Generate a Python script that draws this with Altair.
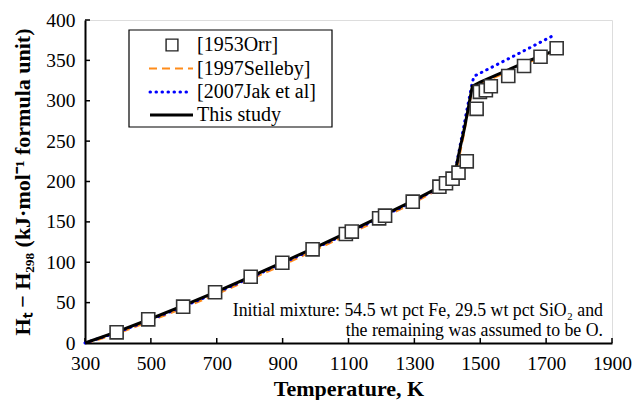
import altair as alt
import pandas as pd

# ---- data ----
orr_T = [396, 492, 598, 695, 803, 899, 991, 1092, 1110, 1193, 1211, 1295, 1376, 1396,
         1416, 1434, 1459, 1489, 1499, 1517, 1532, 1585, 1633, 1683, 1732]
orr_H = [13.2, 29.3, 45, 62.8, 82, 99.4, 116, 135, 138, 154.4, 157.7, 175, 193.6, 197.8,
         203.5, 211, 225, 290, 311, 313, 318, 330.6, 343, 354.5, 365]

sel_T = [300, 400, 500, 600, 700, 800, 900, 1000, 1100, 1200, 1300, 1380, 1420, 1430,
         1440, 1450, 1460, 1470, 1478, 1500, 1600, 1700, 1720]
sel_H = [-1, 12, 27.5, 43.5, 60.5, 78.5, 96.5, 115.5, 134.5, 154, 174, 192, 205, 218,
         238, 258, 280, 302, 316, 321, 339, 357, 361]

jak_T = [300, 400, 500, 600, 700, 800, 900, 1000, 1100, 1200, 1300, 1380, 1420, 1430,
         1440, 1450, 1460, 1470, 1475, 1480, 1484, 1600, 1728]
jak_H = [0, 13.5, 29, 45.5, 62.5, 80.5, 99, 117.5, 136.5, 156, 176, 193.5, 206, 226,
         247, 268, 290, 310, 321, 329, 331, 355, 382]

this_T = [300, 400, 500, 600, 700, 800, 900, 1000, 1100, 1200, 1300, 1380, 1410, 1420,
          1425, 1430, 1440, 1450, 1460, 1470, 1476, 1500, 1550, 1600, 1650, 1700, 1725]
this_H = [0, 14.5, 30, 46.5, 63.5, 81.5, 100, 118.5, 137.5, 157, 177, 194, 202, 207,
          214, 224, 244, 262, 283, 305, 318, 323, 332, 341, 350, 358, 362]

x_ticks = [300, 500, 700, 900, 1100, 1300, 1500, 1700, 1900]
y_ticks = [0, 50, 100, 150, 200, 250, 300, 350, 400]

legend_labels = ["[1953Orr]", "[1997Selleby]", "[2007Jak et al]", "This study"]
note_lines = ["Initial mixture: 54.5 wt pct Fe, 29.5 wt pct SiO\u2082 and",
              "the remaining was assumed to be O."]

# ---- layout / style ----
W, H = 527, 323
FONT = "Liberation Serif"
ORANGE = "#FF8C1A"
BLUE = "#0000FF"

xs = alt.Scale(domain=[300, 1900], nice=False, zero=False)
ys = alt.Scale(domain=[0, 400], nice=False)

x_enc = alt.X("T:Q", scale=xs, axis=alt.Axis(
    values=x_ticks, format="d", title="Temperature, K", ticks=False, grid=False,
    labelFontSize=19.5, labelPadding=11, labelFont=FONT, labelColor="black",
    labelOverlap=False, labelBound=False, labelFlush=False,
    titleFont=FONT, titleFontSize=22, titleFontWeight="bold", titleColor="black",
    titleBaseline="alphabetic", titleY=52, titleX=W / 2,
    domainColor="black", domainWidth=2))
y_enc = alt.Y("H:Q", scale=ys, axis=alt.Axis(
    values=y_ticks, format="d",
    title="H\u209c \u2212 H\u2082\u2089\u2088 (kJ\u00b7mol\u207b\u00b9 formula unit)",
    ticks=False, grid=False,
    labelFontSize=19.5, labelPadding=10, labelFont=FONT, labelColor="black",
    labelOverlap=False, labelBound=False, labelFlush=False,
    titleFont=FONT, titleFontSize=22, titleFontWeight="bold", titleColor="black",
    titleAngle=270, titleAlign="center", titleBaseline="middle",
    titleX=-63, titleY=H / 2,
    domainColor="black", domainWidth=2))

orr = pd.DataFrame({"T": orr_T, "H": orr_H})
sel = pd.DataFrame({"T": sel_T, "H": sel_H})
jak = pd.DataFrame({"T": jak_T, "H": jak_H})
ths = pd.DataFrame({"T": this_T, "H": this_H})

layers = []

# inward ticks
layers.append(alt.Chart(pd.DataFrame({"T": x_ticks})).mark_rule(color="black", strokeWidth=1.5)
              .encode(x=x_enc, y=alt.value(H), y2=alt.value(H - 5)))
layers.append(alt.Chart(pd.DataFrame({"H": y_ticks})).mark_rule(color="black", strokeWidth=1.5)
              .encode(y=y_enc, x=alt.value(0), x2=alt.value(5)))

layers.append(alt.Chart(sel).mark_line(color=ORANGE, strokeWidth=2.2, strokeDash=[8, 5], clip=True)
              .encode(x=x_enc, y=y_enc, order="T:Q"))
layers.append(alt.Chart(jak).mark_line(color=BLUE, strokeWidth=3, strokeDash=[0.5, 5.5], strokeCap="round")
              .encode(x=x_enc, y=y_enc, order="T:Q"))
layers.append(alt.Chart(ths).mark_line(color="black", strokeWidth=3)
              .encode(x=x_enc, y=y_enc, order="T:Q"))
layers.append(alt.Chart(orr).mark_point(shape="square", size=170, filled=True, fill="white",
                                        stroke="#333333", strokeWidth=1.6, opacity=1)
              .encode(x=x_enc, y=y_enc))

# annotation
for i, line in enumerate(note_lines):
    layers.append(alt.Chart(pd.DataFrame({"t": [line]})).mark_text(
        font=FONT, fontSize=17.8, align="right", baseline="alphabetic", color="black")
        .encode(text="t:N", x=alt.value(518), y=alt.value(296 + 20 * i)))

# legend box
dummy = pd.DataFrame({"a": [0]})
layers.append(alt.Chart(dummy).mark_rect(fill="white", stroke="black", strokeWidth=1.2)
              .encode(x=alt.value(44), x2=alt.value(247), y=alt.value(10), y2=alt.value(107)))
rows = [25, 48.5, 72, 95]
layers.append(alt.Chart(dummy).mark_point(shape="square", size=140, filled=True, fill="white",
                                          stroke="#222222", strokeWidth=1.4, opacity=1)
              .encode(x=alt.value(87), y=alt.value(rows[0])))
layers.append(alt.Chart(dummy).mark_rule(color=ORANGE, strokeWidth=2.2, strokeDash=[8, 5])
              .encode(x=alt.value(64), x2=alt.value(108), y=alt.value(rows[1])))
layers.append(alt.Chart(dummy).mark_rule(color=BLUE, strokeWidth=3, strokeDash=[0.5, 5.5], strokeCap="round")
              .encode(x=alt.value(65), x2=alt.value(106), y=alt.value(rows[2])))
layers.append(alt.Chart(dummy).mark_rule(color="black", strokeWidth=3)
              .encode(x=alt.value(65), x2=alt.value(108), y=alt.value(rows[3])))
for lab, ry in zip(legend_labels, rows):
    layers.append(alt.Chart(pd.DataFrame({"t": [lab]})).mark_text(
        font=FONT, fontSize=20, align="left", baseline="middle", color="black")
        .encode(text="t:N", x=alt.value(112), y=alt.value(ry)))

chart = alt.layer(*layers).properties(
    width=W, height=H,
    autosize=alt.AutoSizeParams(type="none"),
    padding={"left": 85, "top": 20, "right": 24, "bottom": 57},
).configure_view(stroke="black", strokeWidth=1.5).configure(background="white")

chart.save("out.html", embed_options={"renderer": "svg", "actions": False})
